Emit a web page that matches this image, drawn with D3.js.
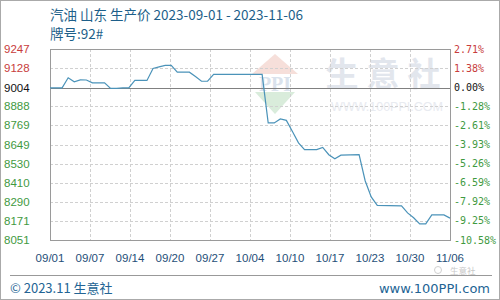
<!DOCTYPE html>
<html>
<head>
<meta charset="utf-8">
<script src="https://cdn.jsdelivr.net/npm/d3@7"></script>
<style>
  body { margin: 0; background: #fff; }
  svg { display: block; }
</style>
</head>
<body>
<svg id="chart" width="500" height="300"></svg>
<script>
// price per day (day index from 2023-09-01)
var days = [0, 2, 3, 4, 5, 6, 7, 9, 10, 11, 12, 13, 14, 16, 17, 18, 19, 20, 21, 23, 24, 25, 26, 27,
            35, 36, 37, 38, 39, 40, 41, 42, 44, 45, 46, 47, 48, 51, 52, 53, 54, 58, 59, 60, 61, 62, 63, 65, 66];
var prices = [9004, 9004, 9067, 9042, 9054, 9053, 9035, 9035, 9000, 9000, 9004, 9004, 9050, 9050, 9125, 9135, 9144, 9144, 9102, 9102, 9075, 9045, 9045, 9088,
              9088, 8784, 8784, 8809, 8800, 8730, 8659, 8617, 8617, 8631, 8585, 8560, 8582, 8585, 8422, 8321, 8268, 8265, 8221, 8190, 8152, 8152, 8208, 8208, 8188];
var xLabels = ["09/01", "09/07", "09/14", "09/20", "09/27", "10/04", "10/10", "10/17", "10/23", "10/30", "11/06"];
var yTicks = [9247, 9128, 9004, 8888, 8769, 8649, 8530, 8410, 8290, 8171, 8051];
var pctLabels = ["2.71%", "1.38%", "0.00%", "-1.28%", "-2.61%", "-3.93%", "-5.26%", "-6.59%", "-7.92%", "-9.25%", "-10.58%"];
var base = 9004;

var dd = { left: 50, right: 450, top: 49, bottom: 240 };

var svg = d3.select("#chart");

// outer frame
svg.append("rect").attr("x", 0.5).attr("y", 0.5).attr("width", 499).attr("height", 299)
  .attr("fill", "none").attr("stroke", "#aaa");

var x = d3.scaleLinear().domain([0, 66]).range([dd.left, dd.right]);
var y = d3.scaleLinear().domain([8051, 9247]).range([dd.bottom, dd.top]);
var xt = d3.scalePoint().domain(xLabels).range([dd.left, dd.right]);

// title
svg.append("text").attr("x", 50).attr("y", 20)
  .attr("font-family", "Noto Sans CJK SC, sans-serif").attr("font-size", 13.5)
  .attr("fill", "#1d5f8a").text("汽油 山东 生产价 2023-09-01 - 2023-11-06");
svg.append("text").attr("x", 50).attr("y", 39)
  .attr("font-family", "Noto Sans CJK SC, sans-serif").attr("font-size", 13.5)
  .attr("fill", "#1d5f8a").text("牌号:92#");

// watermark
var wm = svg.append("g").attr("opacity", 0.9);
wm.append("path").attr("d", "M275,54 L298,74 L252,74 Z").attr("fill", "#f6dcd6");
wm.append("path").attr("d", "M255,92 L295,92 L275,114 Z").attr("fill", "#d5ead8");
wm.append("text").attr("x", 275).attr("y", 91).attr("text-anchor", "middle")
  .attr("font-family", "Liberation Serif, serif").attr("font-weight", "bold").attr("font-size", 20)
  .attr("fill", "#d7dfeb").text("PPI");
wm.append("text").attr("x", 387).attr("y", 86).attr("text-anchor", "middle")
  .attr("font-family", "Noto Sans CJK SC, sans-serif").attr("font-size", 33).attr("font-weight", "bold")
  .attr("letter-spacing", 8).attr("fill", "#dfe4ec").text("生意社");
wm.append("text").attr("x", 387).attr("y", 111).attr("text-anchor", "middle")
  .attr("font-family", "Liberation Sans, sans-serif").attr("font-size", 12.5)
  .attr("fill", "#e6e9ef").text("WWW.100PPI.COM");

// grid
var grid = svg.append("g").attr("stroke", "#d0d0d0").attr("stroke-dasharray", "3,2");
grid.selectAll(".vg").data(xLabels.slice(1, -1)).enter().append("line")
  .attr("x1", function(d) { return xt(d) + 0.5; }).attr("x2", function(d) { return xt(d) + 0.5; })
  .attr("y1", dd.top).attr("y2", dd.bottom);
grid.selectAll(".hg").data(yTicks.filter(function(d) { return d != base && d != 9247 && d != 8051; }))
  .enter().append("line")
  .attr("x1", dd.left).attr("x2", dd.right)
  .attr("y1", function(d) { return Math.round(y(d)) + 0.5; })
  .attr("y2", function(d) { return Math.round(y(d)) + 0.5; });

// base line
svg.append("line").attr("x1", dd.left).attr("x2", dd.right)
  .attr("y1", Math.round(y(base)) + 0.5).attr("y2", Math.round(y(base)) + 0.5)
  .attr("stroke", "#808080");

// plot border
svg.append("rect").attr("x", dd.left + 0.5).attr("y", dd.top + 0.5)
  .attr("width", dd.right - dd.left).attr("height", dd.bottom - dd.top)
  .attr("fill", "none").attr("stroke", "#9a9a9a");

// line
var data = days.map(function(d, i) { return { d: d, v: prices[i] }; });
svg.append("path").datum(data)
  .attr("fill", "none").attr("stroke", "#4b93b9").attr("stroke-width", 1.2)
  .attr("d", d3.line().x(function(d) { return x(d.d); }).y(function(d) { return y(d.v); }));

function tickColor(v) { return v > base ? "#c83c3c" : (v < base ? "#3f9a3f" : "#111"); }

// left axis
svg.append("g").selectAll("text").data(yTicks).enter().append("text")
  .attr("x", 4).attr("y", function(d) { return y(d); }).attr("dy", "0.35em")
  .attr("font-family", "Liberation Sans, sans-serif").attr("font-size", 11.5)
  .attr("fill", tickColor).text(function(d) { return d; });

// right axis
svg.append("g").selectAll("text").data(yTicks).enter().append("text")
  .attr("x", 454).attr("y", function(d) { return y(d); }).attr("dy", "0.35em")
  .attr("font-family", "DejaVu Sans Mono, monospace").attr("font-size", 10)
  .attr("fill", tickColor).text(function(d, i) { return pctLabels[i]; });

// x axis labels
svg.append("g").selectAll("text").data(xLabels).enter().append("text")
  .attr("x", function(d) { return xt(d); }).attr("y", 262).attr("text-anchor", "middle")
  .attr("font-family", "Liberation Sans, sans-serif").attr("font-size", 11.5)
  .attr("fill", "#1f4f78").text(function(d) { return d; });

// footer
svg.append("line").attr("x1", 10).attr("x2", 492).attr("y1", 275.5).attr("y2", 275.5).attr("stroke", "#999");
svg.append("text").attr("x", 10).attr("y", 293)
  .attr("font-family", "Noto Sans CJK SC, sans-serif").attr("font-size", 13)
  .attr("fill", "#236494").text("© 2023.11 生意社");
svg.append("text").attr("x", 490).attr("y", 293).attr("text-anchor", "end")
  .attr("font-family", "DejaVu Sans, sans-serif").attr("font-size", 13)
  .attr("fill", "#236494").text("www.100PPI.com");
svg.append("circle").attr("cx", 438).attr("cy", 270).attr("r", 3.5).attr("fill", "none").attr("stroke", "#d0d0d0");
svg.append("text").attr("x", 450).attr("y", 274)
  .attr("font-family", "Noto Sans CJK SC, sans-serif").attr("font-size", 8.5)
  .attr("fill", "#c8c8c8").text("生意社");
</script>
</body>
</html>
